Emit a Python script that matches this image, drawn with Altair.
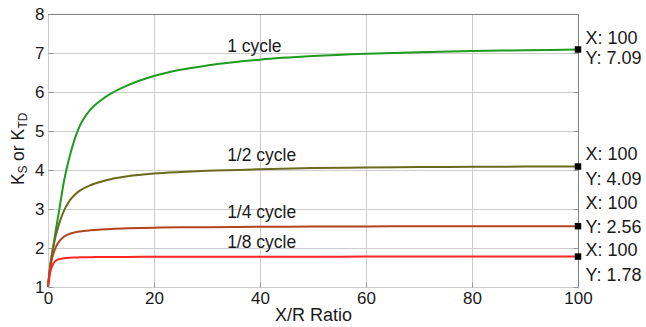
import altair as alt
import pandas as pd

# X/R ratio sample points shared by all four curves
xr_ratio = [0, 0.25, 0.5, 1, 1.5, 2, 3, 4, 5, 6, 8, 10, 12, 15, 20, 25, 30, 40, 50, 60, 70, 80, 90, 100]

# Peak factor K_S / K_TD for each time after fault inception
k_1_cycle = [1.00, 1.35, 1.62, 2.05, 2.48, 2.88, 3.70, 4.30, 4.78, 5.13, 5.55, 5.79, 5.97, 6.17,
             6.41, 6.57, 6.68, 6.83, 6.92, 6.98, 7.02, 7.05, 7.07, 7.09]
k_half_cycle = [1.00, 1.33, 1.62, 2.02, 2.33, 2.58, 2.95, 3.20, 3.36, 3.47, 3.61, 3.70, 3.77, 3.84,
                3.91, 3.95, 3.98, 4.02, 4.05, 4.065, 4.075, 4.082, 4.087, 4.09]
k_quarter_cycle = [1.00, 1.32, 1.56, 1.85, 2.03, 2.15, 2.29, 2.36, 2.40, 2.425, 2.455, 2.475, 2.49, 2.505,
                   2.52, 2.53, 2.535, 2.543, 2.549, 2.553, 2.556, 2.558, 2.559, 2.56]
k_eighth_cycle = [1.00, 1.25, 1.42, 1.60, 1.675, 1.71, 1.735, 1.748, 1.755, 1.76, 1.765, 1.768, 1.77, 1.772,
                  1.774, 1.775, 1.776, 1.777, 1.778, 1.779, 1.779, 1.78, 1.78, 1.78]

series_names = ["1 cycle", "1/2 cycle", "1/4 cycle", "1/8 cycle"]
series_values = [k_1_cycle, k_half_cycle, k_quarter_cycle, k_eighth_cycle]
series_colors = ["#1f9a1f", "#6a6a1e", "#b2441f", "#ff2424"]

x_ticks = [0, 20, 40, 60, 80, 100]
y_ticks = [1, 2, 3, 4, 5, 6, 7, 8]

# 530 / 100 and 273 / 7 give whole-pixel steps, so grid lines stay crisp
W, H = 530, 273
FONT = "Liberation Sans"
TEXT = "#1a1a1a"
FRAME = "#808080"
GRID = "#cdcdcd"

rows = []
for name, vals in zip(series_names, series_values):
    for x, k in zip(xr_ratio, vals):
        rows.append({"xr": x, "k": k, "series": name})
df = pd.DataFrame(rows)

x_scale = alt.Scale(domain=[0, 100], nice=False, zero=False)
y_scale = alt.Scale(domain=[1, 8], nice=False, zero=False)
color_scale = alt.Scale(domain=series_names, range=series_colors)

x_axis = alt.Axis(values=x_ticks, title="X/R Ratio", titleFontSize=18, titleFontWeight="normal",
                  titleColor=TEXT, titleFont=FONT, titleY=33, titleBaseline="alphabetic",
                  labelFontSize=17, labelFont=FONT, labelColor=TEXT, labelPadding=3,
                  labelOverlap=False, ticks=False, domainColor=FRAME, labelFlush=False,
                  grid=False)
y_axis = alt.Axis(values=y_ticks, title=None, labelFontSize=17, labelFont=FONT, labelColor=TEXT,
                  labelPadding=4, labelOverlap=False, ticks=False, domainColor=FRAME, labelFlush=False,
                  grid=False)


def X(field):
    return alt.X(field, scale=x_scale, axis=x_axis)


def Y(field):
    return alt.Y(field, scale=y_scale, axis=y_axis)


ytick_df = pd.DataFrame({"v": y_ticks})
xtick_df = pd.DataFrame({"v": x_ticks})

# light grid drawn as rules at every tick value
h_grid = alt.Chart(ytick_df).mark_rule(color=GRID, strokeWidth=1, yOffset=0.5).encode(y=Y("v:Q"))
v_grid = alt.Chart(xtick_df).mark_rule(color=GRID, strokeWidth=1, xOffset=0.5).encode(x=X("v:Q"))

# frame around the plot area (top and right edges)
top_edge = alt.Chart(pd.DataFrame({"v": [8]})).mark_rule(
    color=FRAME, strokeWidth=1, yOffset=0.5).encode(y=Y("v:Q"))
right_edge = alt.Chart(pd.DataFrame({"v": [100]})).mark_rule(
    color=FRAME, strokeWidth=1, xOffset=0.5).encode(x=X("v:Q"))

lines = alt.Chart(df).mark_line(strokeWidth=2, interpolate="monotone").encode(
    x=X("xr:Q"),
    y=Y("k:Q"),
    color=alt.Color("series:N", scale=color_scale, legend=None),
    detail="series:N",
)

# inward tick marks on the left and right edges and along the bottom
left_ticks = alt.Chart(ytick_df).mark_tick(orient="horizontal", size=5, thickness=1, color=FRAME,
                                           yOffset=0.5).encode(y=Y("v:Q"), x=alt.value(3))
right_ticks = alt.Chart(ytick_df).mark_tick(orient="horizontal", size=5, thickness=1, color=FRAME,
                                            yOffset=0.5).encode(y=Y("v:Q"), x=alt.value(W - 2))
bottom_ticks = alt.Chart(xtick_df).mark_tick(orient="vertical", size=5, thickness=1, color=FRAME,
                                             xOffset=0.5).encode(x=X("v:Q"), y=alt.value(H - 2))

# curve names written above each curve
label_anchor = {"1 cycle": (33.8, 7.03), "1/2 cycle": (33.8, 4.24),
                "1/4 cycle": (33.8, 2.77), "1/8 cycle": (33.8, 1.99)}
label_df = pd.DataFrame({
    "t": series_names,
    "lx": [label_anchor[n][0] for n in series_names],
    "ly": [label_anchor[n][1] for n in series_names],
})
curve_labels = alt.Chart(label_df).mark_text(
    align="left", baseline="alphabetic", fontSize=17.5, font=FONT, color=TEXT
).encode(x=X("lx:Q"), y=Y("ly:Q"), text="t:N")

# data tips at the last point of each curve
tips = pd.DataFrame({
    "series": series_names,
    "xr": [xr_ratio[-1]] * 4,
    "k": [v[-1] for v in series_values],
})
tips["xt"] = tips["xr"].map(lambda v: f"X: {v:g}")
tips["yt"] = tips["k"].map(lambda v: f"Y: {v:.2f}")

markers = alt.Chart(tips).mark_square(size=42, color="black", opacity=1).encode(
    x=X("xr:Q"), y=Y("k:Q"))

tip_dy = {"1 cycle": (-5.6, 15.0), "1/2 cycle": (-6.7, 18.3),
          "1/4 cycle": (-16.7, 6.6), "1/8 cycle": (-0.6, 24.0)}
tip_texts = []
for name in series_names:
    sub = tips[tips["series"] == name]
    dy_x, dy_y = tip_dy[name]
    for col, dy in (("xt", dy_x), ("yt", dy_y)):
        tip_texts.append(
            alt.Chart(sub).mark_text(align="left", baseline="alphabetic", fontSize=18, font=FONT,
                                     color=TEXT, dx=7.5, dy=dy).encode(
                x=X("xr:Q"), y=Y("k:Q"), text=f"{col}:N")
        )

# rotated y-axis title with subscripts: K_S or K_TD
def title_piece(txt, px, py, size):
    return alt.Chart(pd.DataFrame({"t": [txt]})).mark_text(
        align="left", baseline="alphabetic", angle=270, fontSize=size, font=FONT, color=TEXT
    ).encode(x=alt.value(px), y=alt.value(py), text="t:N")

y_title = [
    title_piece("K", -24, 171, 17.5),
    title_piece("S", -21, 159.5, 12),
    title_piece("or K", -24, 147, 17.5),
    title_piece("TD", -21, 114.5, 12),
]

chart = alt.layer(
    h_grid, v_grid, lines, top_edge, right_edge, left_ticks, right_ticks, bottom_ticks,
    curve_labels, markers, *tip_texts, *y_title
).properties(
    width=W, height=H,
    autosize=alt.AutoSizeParams(type="none"),
    padding={"left": 48, "top": 14, "right": 68, "bottom": 40},
    background="white",
).configure_view(strokeWidth=0)

chart.save("out.html", embed_options={"renderer": "svg", "actions": False})
